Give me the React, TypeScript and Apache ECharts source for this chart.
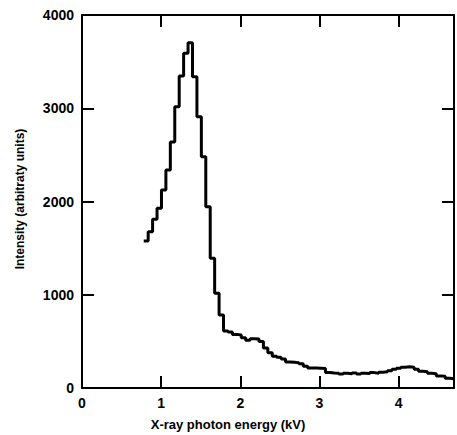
import React, { useEffect, useRef } from "react";
import * as echarts from "echarts";

// Histogram channels: left edge of first channel and channel width (kV)
const binStart = 0.78;
const binWidth = 0.056;

// Intensity per channel (arbitrary units)
const intensities = [
  1576, 1676, 1809, 1927, 2123, 2338, 2638, 3017, 3346, 3589,
  3703, 3338, 2909, 2480, 1944, 1391, 1016, 783, 610, 600,
  575, 568, 540, 512, 528, 525, 500, 430, 378, 340,
  330, 312, 280, 275, 270, 260, 232, 215, 214, 212,
  210, 165, 160, 158, 150, 158, 152, 162, 150, 158,
  155, 165, 158, 170, 175, 185, 200, 212, 222, 228,
  222, 200, 180, 175, 158, 152, 130, 125, 105, 100,
];

const xMin = 0;
const xMax = 4.7;
const xInterval = 1;
const yMin = 0;
const yMax = 4000;
const yInterval = 1000;

const xTitle = "X-ray photon energy (kV)";
const yTitle = "Intensity (arbitraty units)";

const FONT = "'Liberation Sans', Arial, Helvetica, sans-serif";

export default function App() {
  const ref = useRef<HTMLDivElement>(null);

  useEffect(() => {
    if (!ref.current) return;
    const chart = echarts.init(ref.current, null, { renderer: "svg" });

    const data: number[][] = intensities.map((v, i) => [
      +(binStart + i * binWidth).toFixed(4),
      v,
    ]);
    data.push([
      +(binStart + intensities.length * binWidth).toFixed(4),
      intensities[intensities.length - 1],
    ]);

    const intLabel = (v: number) =>
      Math.abs(v - Math.round(v)) < 1e-9 ? String(Math.round(v)) : "";

    const axisLine = {
      show: true,
      onZero: false,
      lineStyle: { color: "#000", width: 2 },
    };
    const tick = {
      show: true,
      inside: true,
      length: 12,
      lineStyle: { color: "#000", width: 2 },
    };
    const label = {
      color: "#000",
      fontFamily: FONT,
      fontWeight: "bold" as const,
      fontSize: 14,
    };

    chart.setOption({
      animation: false,
      backgroundColor: "#fff",
      grid: { left: 82, right: 3, top: 15, bottom: 47, containLabel: false },
      xAxis: [
        {
          type: "value",
          position: "bottom",
          min: xMin,
          max: xMax,
          interval: xInterval,
          axisLine,
          axisTick: tick,
          splitLine: { show: false },
          axisLabel: { ...label, margin: 8, formatter: intLabel },
        },
        {
          type: "value",
          position: "top",
          min: xMin,
          max: xMax,
          interval: xInterval,
          axisLine,
          axisTick: tick,
          splitLine: { show: false },
          axisLabel: { show: false },
        },
      ],
      yAxis: [
        {
          type: "value",
          position: "left",
          min: yMin,
          max: yMax,
          interval: yInterval,
          axisLine,
          axisTick: tick,
          splitLine: { show: false },
          axisLabel: { ...label, margin: 8, formatter: (v: number) => String(v) },
        },
        {
          type: "value",
          position: "right",
          min: yMin,
          max: yMax,
          interval: yInterval,
          axisLine,
          axisTick: tick,
          splitLine: { show: false },
          axisLabel: { show: false },
        },
      ],
      graphic: [
        {
          type: "text",
          x: 228,
          y: 424,
          style: {
            text: xTitle,
            fill: "#000",
            font: `bold 13px ${FONT}`,
            align: "center",
            verticalAlign: "middle",
          },
        },
        {
          type: "text",
          x: 20,
          y: 199,
          rotation: Math.PI / 2,
          style: {
            text: yTitle,
            fill: "#000",
            font: `bold 12px ${FONT}`,
            align: "center",
            verticalAlign: "middle",
          },
        },
      ],
      series: [
        {
          type: "line",
          step: "end",
          data,
          xAxisIndex: 0,
          yAxisIndex: 0,
          showSymbol: false,
          symbol: "none",
          lineStyle: { color: "#000", width: 3 },
          clip: true,
        },
      ],
    });

    return () => chart.dispose();
  }, []);

  return (
    <div
      ref={ref}
      style={{ position: "fixed", left: 0, top: 0, width: 457, height: 435 }}
    />
  );
}
